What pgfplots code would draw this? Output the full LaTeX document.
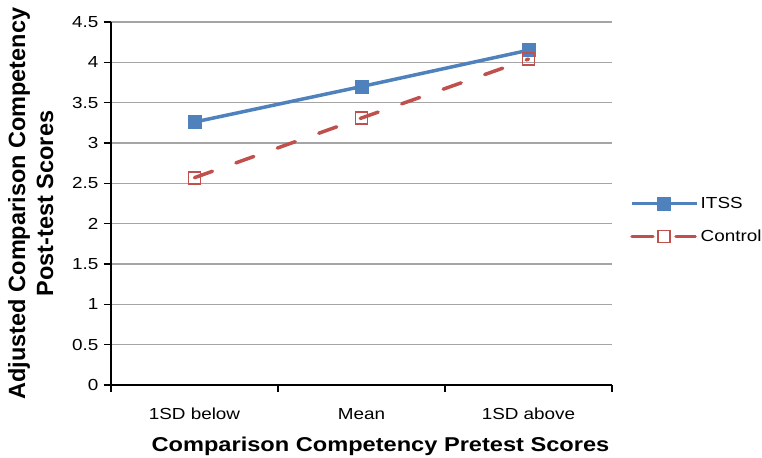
\documentclass[border=0pt]{standalone}
\usepackage{pgfplots}
\pgfplotsset{compat=1.18}
\usepackage{fontspec}
\setmainfont[FakeStretch=1.18]{Liberation Sans}
\newfontfamily\ylfont{Liberation Sans}
\definecolor{itss}{RGB}{79,129,189}
\definecolor{ctrl}{RGB}{192,80,77}
\pgfplotsset{
  itsslegend/.style={legend image code/.code={
    \draw[##1] (0pt,0pt) -- (65pt,0pt);
    \draw[##1, mark repeat=2, mark phase=2] plot coordinates {(0pt,0pt) (32pt,0pt) (65pt,0pt)};
  }},
  ctrllegend/.style={legend image code/.code={
    \draw[##1, solid] (2pt,0pt) -- (21pt,0pt);
    \draw[##1, solid] (45pt,0pt) -- (63pt,0pt);
    \draw[##1, mark repeat=2, mark phase=2] plot coordinates {(0pt,0pt) (32pt,0pt) (65pt,0pt)};
  }},
}
\begin{document}
\begin{tikzpicture}
\begin{axis}[
  scale only axis,
  width=501pt, height=363pt,
  xmin=-0.5, xmax=2.5,
  ymin=0, ymax=4.5,
  ytick={0,0.5,...,4.5},
  yticklabels={0,0.5,1,1.5,2,2.5,3,3.5,4,4.5},
  xtick={-0.5,0.5,1.5,2.5},
  xticklabels={},
  extra x ticks={0,1,2},
  extra x tick labels={1SD below,Mean,1SD above},
  extra x tick style={major tick length=0pt, xticklabel style={anchor=base, yshift=-35pt}},
  axis x line*=bottom,
  axis y line*=left,
  axis line style={line width=1.3pt, -},
  tick align=outside,
  major tick length=7pt,
  tick style={black, line width=1.3pt},
  ymajorgrids,
  major grid style={draw={rgb,255:red,165;green,165;blue,165}, line width=1.6pt},
  tick label style={font=\fontsize{16}{18}\selectfont},
  /pgf/number format/assume math mode=true,
  yticklabel style={xshift=-2pt},
  xlabel={Comparison Competency Pretest Scores},
  xlabel style={font=\fontsize{20}{24}\selectfont\bfseries, at={(axis description cs:0.5,0)}, anchor=base, yshift=-67pt, xshift=19pt},
  ylabel={Adjusted Comparison Competency\\Post-test Scores},
  ylabel style={font=\ylfont\fontsize{23.5}{28}\selectfont\bfseries, align=center, yshift=12pt},
  legend style={draw=none, at={(1.036,0.523)}, anchor=north west,
    font=\fontsize{16}{18}\selectfont, row sep=16pt, inner sep=0pt,
    /tikz/every even column/.append style={column sep=5pt}},
  legend cell align=left,
]
\addplot[color=itss, line width=3.5pt, mark=square*, mark size=6.5pt, mark options={solid, line width=0.5pt, fill=itss}, itsslegend]
  coordinates {(0,3.26) (1,3.70) (2,4.15)};
\addlegendentry{ITSS}
\addplot[color=ctrl, line width=3.5pt, line cap=round, dash pattern=on 19pt off 25pt, mark=square, mark size=6pt, mark options={solid, line width=1.8pt, fill=white}, ctrllegend]
  coordinates {(0,2.57) (1,3.31) (2,4.04)};
\addlegendentry{Control}
\end{axis}
\pgfresetboundingbox
\path ([shift={(-111pt,-73pt)}]current axis.south west) rectangle ([shift={(150pt,22pt)}]current axis.north east);
\end{tikzpicture}
\end{document}
